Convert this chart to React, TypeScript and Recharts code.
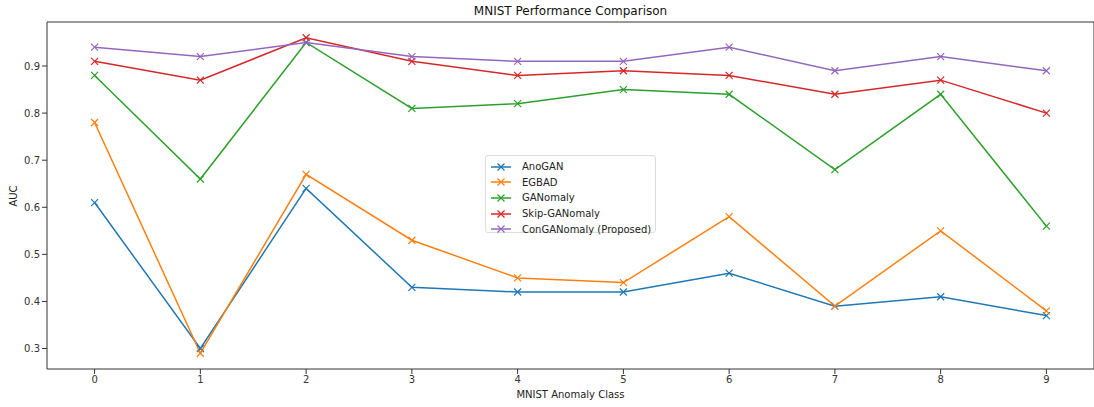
import { LineChart, Line, XAxis, YAxis, ReferenceArea } from 'recharts'

const classes = [0, 1, 2, 3, 4, 5, 6, 7, 8, 9]
const anoGAN = [0.61, 0.3, 0.64, 0.43, 0.42, 0.42, 0.46, 0.39, 0.41, 0.37]
const egbad = [0.78, 0.29, 0.67, 0.53, 0.45, 0.44, 0.58, 0.39, 0.55, 0.38]
const ganomaly = [0.88, 0.66, 0.95, 0.81, 0.82, 0.85, 0.84, 0.68, 0.84, 0.56]
const skipGanomaly = [0.91, 0.87, 0.96, 0.91, 0.88, 0.89, 0.88, 0.84, 0.87, 0.8]
const conGanomaly = [0.94, 0.92, 0.95, 0.92, 0.91, 0.91, 0.94, 0.89, 0.92, 0.89]
const yTicks = [0.3, 0.4, 0.5, 0.6, 0.7, 0.8, 0.9]

const series = [
  { key: 'anoGAN', name: 'AnoGAN', color: '#1f77b4', values: anoGAN },
  { key: 'egbad', name: 'EGBAD', color: '#ff7f0e', values: egbad },
  { key: 'ganomaly', name: 'GANomaly', color: '#2ca02c', values: ganomaly },
  { key: 'skip', name: 'Skip-GANomaly', color: '#d62728', values: skipGanomaly },
  { key: 'con', name: 'ConGANomaly (Proposed)', color: '#9467bd', values: conGanomaly },
]

const data = classes.map((c, i) => {
  const row: Record<string, number> = { cls: c }
  series.forEach((s) => (row[s.key] = s.values[i]))
  return row
})

const FONT = '"DejaVu Sans", sans-serif'
const X_DOMAIN: [number, number] = [-0.45, 9.45]
const Y_DOMAIN: [number, number] = [0.2565, 0.9935]

function XMark(props: any) {
  const { cx, cy, stroke } = props
  if (cx == null || cy == null) return null
  const r = 3.5
  return (
    <path
      d={`M${cx - r},${cy - r}L${cx + r},${cy + r}M${cx - r},${cy + r}L${cx + r},${cy - r}`}
      stroke={stroke}
      strokeWidth={1.2}
      fill="none"
    />
  )
}

export default function App() {
  return (
    <div style={{ position: 'absolute', left: 0, top: 0, width: 1094, height: 407, background: '#fff', fontFamily: FONT }}>
      <div style={{ position: 'absolute', left: 47, width: 1047, top: 4, textAlign: 'center', fontSize: 12, color: '#111' }}>
        MNIST Performance Comparison
      </div>
      <div style={{ position: 'absolute', left: 47, width: 1047, top: 389, textAlign: 'center', fontSize: 10, color: '#222' }}>
        MNIST Anomaly Class
      </div>
      <div
        style={{
          position: 'absolute',
          left: 13,
          top: 196,
          fontSize: 10,
          color: '#222',
          transform: 'translate(-50%, -50%) rotate(-90deg)',
        }}
      >
        AUC
      </div>
      <LineChart width={1094} height={407} data={data} margin={{ top: 22, right: 0, left: 0, bottom: 0 }}>
        <XAxis
          dataKey="cls"
          type="number"
          domain={X_DOMAIN}
          ticks={classes}
          allowDataOverflow
          height={38}
          axisLine={false}
          tickSize={5}
          tickLine={{ stroke: '#333' }}
          tick={{ fill: '#333', fontSize: 10, fontFamily: FONT }}
        />
        <YAxis
          type="number"
          domain={Y_DOMAIN}
          ticks={yTicks}
          allowDataOverflow
          width={47}
          axisLine={false}
          tickSize={5}
          tickLine={{ stroke: '#333' }}
          tick={{ fill: '#333', fontSize: 10, fontFamily: FONT }}
          tickFormatter={(v: number) => v.toFixed(1)}
        />
        <ReferenceArea
          x1={X_DOMAIN[0]}
          x2={X_DOMAIN[1]}
          y1={Y_DOMAIN[0]}
          y2={Y_DOMAIN[1]}
          fill="none"
          stroke="#333"
          strokeWidth={1}
          ifOverflow="visible"
        />
        {series.map((s) => (
          <Line
            key={s.key}
            dataKey={s.key}
            name={s.name}
            stroke={s.color}
            strokeWidth={1.5}
            type="linear"
            dot={<XMark stroke={s.color} />}
            activeDot={false}
            isAnimationActive={false}
          />
        ))}
      </LineChart>
      <div
        style={{
          position: 'absolute',
          left: 485,
          top: 155,
          width: 171,
          height: 78,
          border: '1px solid #ddd',
          borderRadius: 3,
          background: 'rgba(255,255,255,0.8)',
          boxSizing: 'border-box',
          padding: '3px 0 0 4px',
        }}
      >
        {series.map((s) => (
          <div key={s.key} style={{ display: 'flex', alignItems: 'center', height: 15.6, fontSize: 10, color: '#222' }}>
            <svg width={22} height={10} style={{ marginRight: 10 }}>
              <line x1={1} y1={5} x2={21} y2={5} stroke={s.color} strokeWidth={1.5} />
              <path d="M7.5,1.5L14.5,8.5M7.5,8.5L14.5,1.5" stroke={s.color} strokeWidth={1.2} />
            </svg>
            <span>{s.name}</span>
          </div>
        ))}
      </div>
    </div>
  )
}
